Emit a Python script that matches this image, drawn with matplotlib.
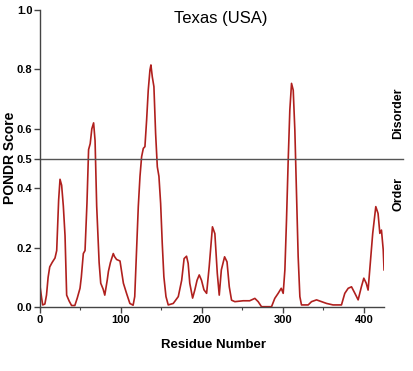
import matplotlib
matplotlib.use("Agg")
import matplotlib.pyplot as plt

# PONDR disorder profile
residue = [0, 2, 3.3, 6, 8, 10, 12, 15, 18.5, 20.6, 23, 24.7, 26.7, 28.8, 30.9,
           32.9, 36, 39, 43, 46, 49.4, 51, 53.5, 55.6, 58, 60, 62, 64, 66.2, 68,
           70, 73, 75, 76.5, 78, 80, 83, 84.5, 87, 90.5, 92, 94.6, 98.8, 103, 107,
           111, 115, 117, 119.3, 121.4, 123.5, 125.5, 127.6, 129.6, 131.7, 133.7,
           135.8, 137, 138.7, 140.7, 142.8, 144.9, 146.9, 149, 151, 153, 155.6,
           158.4, 164.6, 170.8, 175, 178, 181, 183, 185, 188.5, 191.3, 194, 196.7,
           199.5, 202.5, 205.8, 209, 213, 216, 219, 221.4, 224, 228, 231, 233.8,
           236.6, 240.7, 251, 259, 265.4, 269.5, 273.6, 286, 290, 294.2, 298,
           300.4, 302.5, 304.5, 306.6, 308.6, 310.7, 312.8, 314.8, 316.9, 318.9,
           321, 323, 331.3, 335.4, 341.6, 347.8, 354, 362, 372.4, 376.5, 380.7,
           384.8, 389, 393, 397, 400, 403, 405.3, 408, 411, 414.8, 417.6, 419.8,
           421.8, 424, 425]
score = [0.07, 0.03, 0.007, 0.01, 0.04, 0.10, 0.135, 0.15, 0.165, 0.19, 0.36, 0.43,
         0.41, 0.34, 0.24, 0.04, 0.02, 0.005, 0.005, 0.03, 0.063, 0.1, 0.18, 0.19,
         0.35, 0.53, 0.55, 0.60, 0.62, 0.56, 0.34, 0.15, 0.08, 0.07, 0.06, 0.04,
         0.09, 0.12, 0.15, 0.18, 0.17, 0.16, 0.155, 0.08, 0.045, 0.012, 0.006,
         0.035, 0.19, 0.338, 0.44, 0.506, 0.534, 0.54, 0.63, 0.73, 0.798, 0.815,
         0.775, 0.742, 0.584, 0.472, 0.44, 0.349, 0.214, 0.102, 0.035, 0.007,
         0.012, 0.035, 0.09, 0.163, 0.171, 0.147, 0.08, 0.03, 0.058, 0.09, 0.108,
         0.09, 0.058, 0.046, 0.136, 0.27, 0.247, 0.113, 0.04, 0.125, 0.169, 0.152,
         0.068, 0.023, 0.018, 0.021, 0.021, 0.029, 0.018, 0.001, 0.001, 0.029,
         0.046, 0.063, 0.046, 0.125, 0.293, 0.495, 0.663, 0.753, 0.73, 0.596,
         0.382, 0.17, 0.035, 0.007, 0.007, 0.018, 0.024, 0.018, 0.012, 0.007,
         0.007, 0.046, 0.063, 0.068, 0.046, 0.024, 0.068, 0.097, 0.08, 0.057,
         0.147, 0.248, 0.338, 0.315, 0.248, 0.259, 0.192, 0.125]

threshold = 0.5
y_ticks = [0.0, 0.2, 0.4, 0.5, 0.6, 0.8, 1.0]
x_ticks = [0, 100, 200, 300, 400]
x_minor = [50, 150, 250, 350]

font = ["Liberation Sans", "DejaVu Sans"]
W, H = 413, 371

fig = plt.figure(figsize=(4.13, 3.71), dpi=100)
ax = fig.add_axes([0.0969, 0.1725, 0.833, 0.8005])

ax.plot(residue, score, color="#b0201e", linewidth=1.2)
ax.plot([0, 1.055], [threshold, threshold], color="#555555", linewidth=1.0,
        transform=ax.get_yaxis_transform(), clip_on=False)

ax.set_xlim(0, 425)
ax.set_ylim(0, 1.0)
ax.set_yticks(y_ticks)
ax.set_yticklabels([f"{v:.1f}" for v in y_ticks])
ax.set_xticks(x_ticks)
ax.set_xticks(x_minor, minor=True)

for side in ["top", "right"]:
    ax.spines[side].set_visible(False)
for side in ["left", "bottom"]:
    ax.spines[side].set_color("#444444")
    ax.spines[side].set_linewidth(1.0)

ax.tick_params(axis="both", which="major", direction="out", length=4,
               width=1.0, color="#444444", pad=1.5)
ax.tick_params(axis="x", which="minor", direction="out", length=2.5,
               width=0.8, color="#444444")
for lab in ax.get_xticklabels() + ax.get_yticklabels():
    lab.set_fontfamily(font)
    lab.set_fontweight("bold")
    lab.set_fontsize(8)

# axis titles placed by hand so they sit where the reference has them
fig.text(213 / W, 1 - 345 / H, "Residue Number", family=font,
         fontweight="bold", fontsize=9.5, ha="center", va="center")
fig.text(10 / W, 1 - 158 / H, "PONDR Score", family=font, fontweight="bold",
         fontsize=10, rotation=90, ha="center", va="center")

fig.text(221 / W, 1 - 18 / H, "Texas (USA)", family=font, fontsize=12,
         ha="center", va="center")
fig.text(398 / W, 1 - 113 / H, "Disorder", family=font, fontweight="bold",
         fontsize=9, rotation=90, ha="center", va="center")
fig.text(398 / W, 1 - 194 / H, "Order", family=font, fontweight="bold",
         fontsize=9, rotation=90, ha="center", va="center")

fig.savefig("out.png", dpi=100)
